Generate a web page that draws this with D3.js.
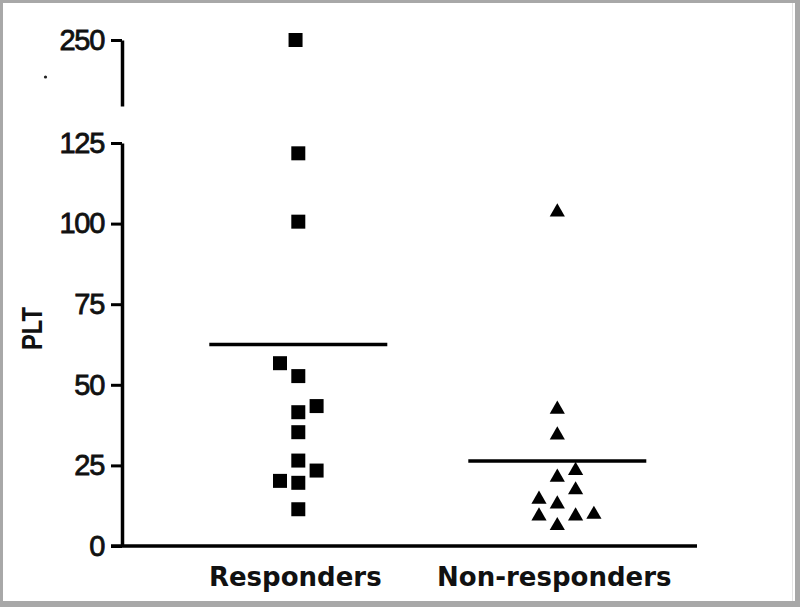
<!DOCTYPE html>
<html>
<head>
<meta charset="utf-8">
<script src="https://cdn.jsdelivr.net/npm/d3@7"></script>
<style>
  html, body { margin: 0; padding: 0; background: #fff; }
  svg { display: block; }
</style>
</head>
<body>
<svg id="chart" width="800" height="607"></svg>
<script>
// ---- data ----
const categories = ["Responders", "Non-responders"];
const responderValues = [250, 121.8, 100.6, 56.7, 52.7, 43.4, 41.5, 35.3, 26.5, 23.4, 20.2, 19.6, 11.4];
const responderCols   = [-0.15, 0, 0, -1, 0, 1, 0, 0, 0, 1, -1, 0, 0];
const nonResponderValues = [103.6, 42.4, 34.4, 23.4, 21.3, 17.4, 14.5, 13.0, 9.3, 9.3, 9.8, 6.3];
const nonResponderCols   = [0, 0, 0, 1, 0, 1, -1, 0, -1, 1, 2, 0];
const means = [62.5, 26.4];
const lowerTicks = [0, 25, 50, 75, 100, 125];
const upperTicks = [250];
const yLabel = "PLT";

// ---- layout ----
const W = 800, H = 607;
const svg = d3.select("#chart");
const axisX = 122;
const jitterStep = 18.3;
const meanHalf = 89;

// frame
svg.append("rect").attr("x", 0).attr("y", 0).attr("width", W).attr("height", H).attr("fill", "#a8a8a8");
svg.append("rect").attr("x", 3).attr("y", 3).attr("width", W - 3 - 5).attr("height", H - 3 - 6).attr("fill", "#ffffff");
svg.append("line").attr("x1", 792.5).attr("x2", 792.5).attr("y1", 3).attr("y2", H - 6)
  .attr("stroke", "#e4e4e4").attr("stroke-width", 1);

const x = d3.scalePoint().domain(categories).range([298.3, 557.3]);
const yLow = d3.scaleLinear().domain([0, 125]).range([546, 143]);
const yUp = d3.scaleLinear().domain([229.5, 250]).range([106, 40]);
const y = v => v > 125 ? yUp(v) : yLow(v);

function styleAxis(g) {
  g.select(".domain").attr("stroke", "#000").attr("stroke-width", 3.5);
  g.selectAll(".tick line").attr("stroke", "#000").attr("stroke-width", 3);
  g.selectAll(".tick text")
    .attr("font-family", "'Liberation Sans', Arial, sans-serif")
    .attr("font-size", 29)
    .attr("letter-spacing", -1.3)
    .attr("fill", "#111")
    .attr("stroke", "#111")
    .attr("stroke-width", 0.8);
}

const gLow = svg.append("g").attr("transform", `translate(${axisX},0)`)
  .call(d3.axisLeft(yLow).tickValues(lowerTicks).tickSize(11).tickSizeOuter(0).tickPadding(7));
styleAxis(gLow);
const gUp = svg.append("g").attr("transform", `translate(${axisX},0)`)
  .call(d3.axisLeft(yUp).tickValues(upperTicks).tickSize(11).tickSizeOuter(0).tickPadding(7));
styleAxis(gUp);

// x axis
svg.append("line").attr("x1", 111).attr("x2", 697).attr("y1", yLow(0)).attr("y2", yLow(0))
  .attr("stroke", "#000").attr("stroke-width", 3.5);

// small stray dot near the axis break
svg.append("circle").attr("cx", 45.5).attr("cy", 77).attr("r", 1.6).attr("fill", "#222");

// category labels
svg.selectAll("text.cat").data(categories).join("text")
  .attr("class", "cat")
  .attr("x", d => x(d) - 3)
  .attr("y", 586)
  .attr("text-anchor", "middle")
  .attr("font-family", "'DejaVu Sans', Verdana, sans-serif")
  .attr("font-weight", "bold")
  .attr("font-size", 26)
  .attr("fill", "#111")
  .text(d => d);

// y label
svg.append("text")
  .attr("transform", "translate(42,328.5) rotate(-90)")
  .attr("text-anchor", "middle")
  .attr("font-family", "'Liberation Sans', Arial, sans-serif")
  .attr("font-weight", "bold")
  .attr("font-size", 29)
  .attr("textLength", 43)
  .attr("lengthAdjust", "spacingAndGlyphs")
  .attr("fill", "#111")
  .text(yLabel);

// mean lines
svg.selectAll("line.mean").data(categories).join("line")
  .attr("class", "mean")
  .attr("x1", (d) => x(d) - meanHalf)
  .attr("x2", (d) => x(d) + meanHalf)
  .attr("y1", (d, i) => y(means[i]))
  .attr("y2", (d, i) => y(means[i]))
  .attr("stroke", "#000").attr("stroke-width", 3.5);

// points
const respData = responderValues.map((v, i) => ({ v, c: responderCols[i] }));
const nonData = nonResponderValues.map((v, i) => ({ v, c: nonResponderCols[i] }));

svg.selectAll("path.resp").data(respData).join("path")
  .attr("class", "resp")
  .attr("d", d3.symbol(d3.symbolSquare, 14 * 14))
  .attr("transform", d => `translate(${x(categories[0]) + d.c * jitterStep},${y(d.v)})`)
  .attr("fill", "#000");

svg.selectAll("path.non").data(nonData).join("path")
  .attr("class", "non")
  .attr("d", d3.symbol(d3.symbolTriangle, 100))
  .attr("transform", d => `translate(${x(categories[1]) + d.c * jitterStep},${y(d.v)})`)
  .attr("fill", "#000");
</script>
</body>
</html>
